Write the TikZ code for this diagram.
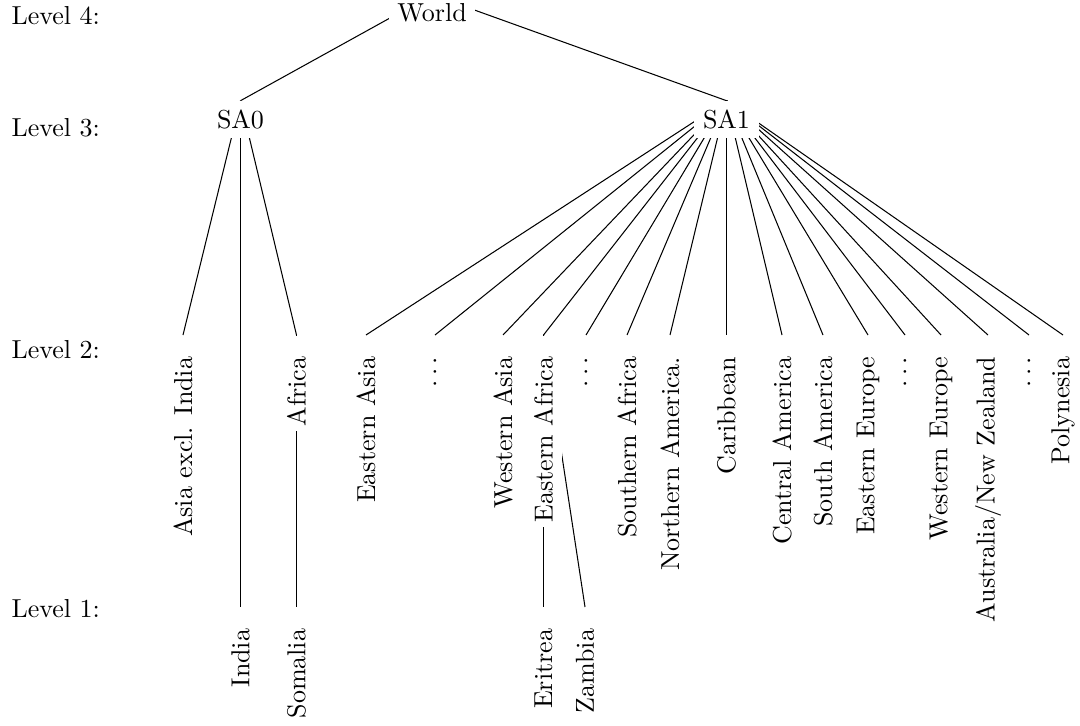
\documentclass[tikz,border=0pt]{standalone}
\pgfdeclarelayer{bg}
\pgfsetlayers{bg,main}
\begin{document}
\begin{tikzpicture}[x=0.3846pt,y=-0.3846pt,
  lab/.style={anchor=base west, inner sep=0pt},
  topnode/.style={fill=white, anchor=base},
  rot/.style={fill=white, rotate=90, anchor=east, inner xsep=2pt,
    execute at end node={\kern6.2pt}},
  link/.style={draw, line width=0.4pt}]
\useasboundingbox (0,0) rectangle (1080,725);
% level labels
\node[lab] (L4) at (11,25) {Level 4:};
\node[lab] (L3) at (11,137) {Level 3:};
\node[lab] (L2) at (11,358) {Level 2:};
\node[lab] (L1) at (11,617) {Level 1:};
% level 4 and 3
\node[topnode] (world) at (432,22) {World};
\node[topnode] (sa0) at (240.5,128.5) {SA0};
\node[topnode] (sa1) at (726.5,128.5) {SA1};
% level 2
\node[rot] (asia) at (183,335) {Asia excl. India};
\node[rot] (africa) at (296.5,335) {Africa};
\node[rot] (easia) at (366,335) {Eastern Asia};
\node[rot] (dotsa) at (435,335) {$\ldots$};
\node[rot] (wasia) at (503,335) {Western Asia};
\node[rot] (eafrica) at (543.5,335) {Eastern Africa};
\node[rot] (dotsb) at (586,335) {$\ldots$};
\node[rot] (safrica) at (627,335) {Southern Africa};
\node[rot] (namerica) at (670,335) {Northern America.};
\node[rot] (carib) at (726.5,335) {Caribbean};
\node[rot] (camerica) at (782,335) {Central America};
\node[rot] (samerica) at (823,335) {South America};
\node[rot] (eeurope) at (868,335) {Eastern Europe};
\node[rot] (dotsc) at (905,335) {$\ldots$};
\node[rot] (weurope) at (941,335) {Western Europe};
\node[rot] (anz) at (988,335) {Australia/New Zealand};
\node[rot] (dotsd) at (1029,335) {$\ldots$};
\node[rot] (poly) at (1063,335) {Polynesia};
% level 1
\node[rot] (india) at (240.5,607) {India};
\node[rot] (somalia) at (296.5,607) {Somalia};
\node[rot] (eritrea) at (543.5,607) {Eritrea};
\node[rot] (zambia) at (585,607) {Zambia};
% connectors
\begin{pgfonlayer}{bg}
\path[link] (world.north) -- (sa0.north);
\path[link] (world.north) -- (sa1.north);
\path[link] (sa0.north) -- (asia.east);
\path[link] (sa0.north) -- (india.east);
\path[link] (sa0.north) -- (africa.east);
\path[link] (africa.east) -- (somalia.east);
\foreach \c in {easia,dotsa,wasia,eafrica,dotsb,safrica,namerica,carib,camerica,samerica,eeurope,dotsc,weurope,anz,dotsd,poly}
  \path[link] (sa1.north) -- (\c.east);
\path[link] (eafrica.east) -- (eritrea.east);
\path[link] (eafrica.east) -- (zambia.east);
\end{pgfonlayer}
\end{tikzpicture}
\end{document}
